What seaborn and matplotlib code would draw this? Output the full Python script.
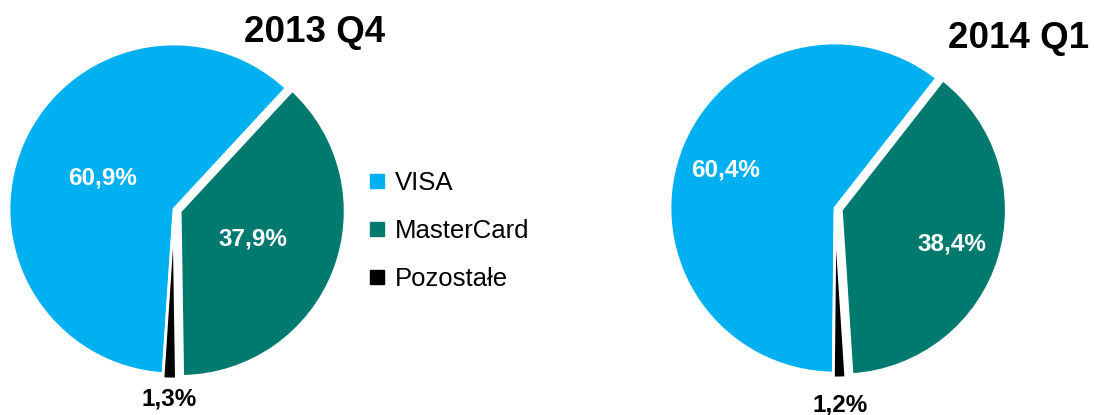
import numpy as np
import seaborn as sns
import matplotlib.pyplot as plt
from matplotlib.lines import Line2D

sns.set_theme(style="white")
plt.rcParams["font.family"] = ["Liberation Sans", "DejaVu Sans"]
plt.rcParams["text.color"] = "black"

# data
categories = ["VISA", "MasterCard", "Pozostałe"]
q4_2013 = [60.9, 37.9, 1.3]
q1_2014 = [60.4, 38.4, 1.2]
q4_labels = ["60,9%", "37,9%", "1,3%"]
q1_labels = ["60,4%", "38,4%", "1,2%"]
titles = ["2013 Q4", "2014 Q1"]

colors = ["#00B0F0", "#007A6E", "#000000"]

W, H = 1094, 415
fig = plt.figure(figsize=(W / 100, H / 100), dpi=100)

R = 165  # pie radius in pixels
LIM = 1.3


def pie_axes(cx, cy):
    # cx, cy: pie centre in pixels, measured from top-left
    size = 2 * LIM * R
    ax = fig.add_axes([(cx - size / 2) / W, (H - cy - size / 2) / H, size / W, size / H])
    return ax


def draw_pie(ax, values, labels, start, pct_r, out_r):
    wedges, _ = ax.pie(values, colors=colors, startangle=start, counterclock=False,
                       explode=[0, 0.04, 0.03],
                       wedgeprops=dict(edgecolor="white", linewidth=2))
    for i, w in enumerate(wedges):
        mid = np.deg2rad((w.theta1 + w.theta2) / 2)
        r = out_r if i == 2 else pct_r
        x = w.center[0] + r * np.cos(mid)
        y = w.center[1] + r * np.sin(mid)
        ax.text(x, y, labels[i], ha="center", va="center", fontsize=17.5, fontweight="bold",
                color="black" if i == 2 else "white")
    ax.set_xlim(-LIM, LIM)
    ax.set_ylim(-LIM, LIM)
    ax.set_aspect("equal")
    ax.axis("off")


ax1 = pie_axes(174, 209)
draw_pie(ax1, q4_2013, q4_labels, 266.2, 0.47, 1.12)

ax2 = pie_axes(835, 208)
draw_pie(ax2, q1_2014, q1_labels, 269.4, 0.7, 1.165)

fig.text(315 / W, 1 - 33 / H, titles[0], ha="center", va="center", fontsize=26.5, fontweight="bold")
fig.text(1019 / W, 1 - 39 / H, titles[1], ha="center", va="center", fontsize=26.5, fontweight="bold")

handles = [Line2D([], [], marker="s", linestyle="none", markersize=9.5,
                  markerfacecolor=c, markeredgecolor=c) for c in colors]
fig.legend(handles, categories, loc="center left", bbox_to_anchor=(370 / W, 1 - 231 / H),
           frameon=False, fontsize=18.5, handlelength=0.55, handletextpad=0.4,
           labelspacing=0.95, borderpad=0, borderaxespad=0, labelcolor="black")

fig.savefig("out.png", dpi=100)
